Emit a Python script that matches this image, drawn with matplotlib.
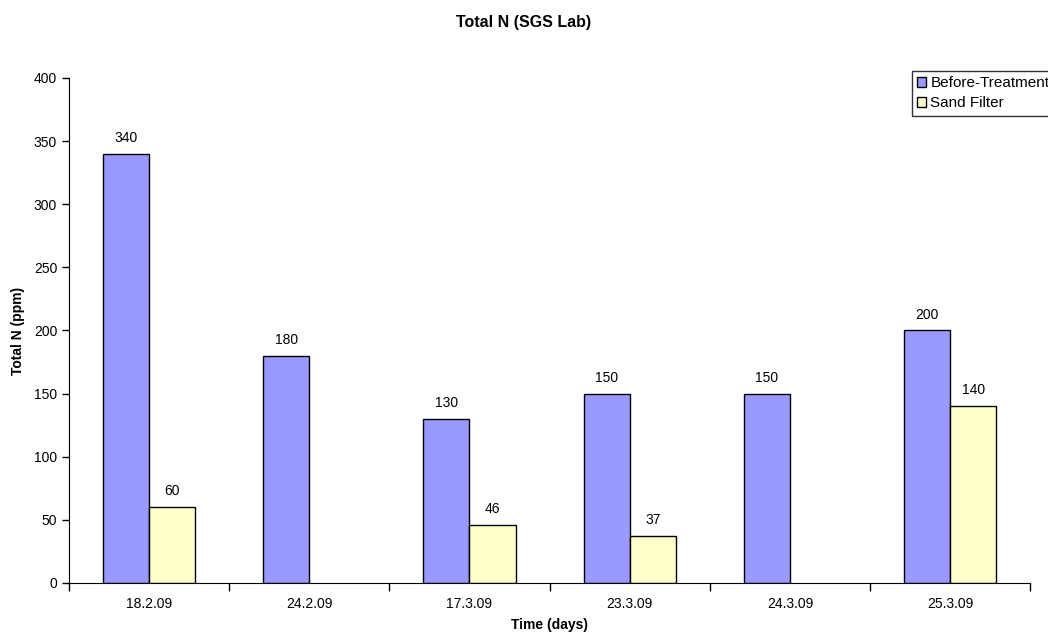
import numpy as np
from matplotlib import pyplot as plt

dates = ['18.2.09', '24.2.09', '17.3.09', '23.3.09', '24.3.09', '25.3.09']
before = [340, 180, 130, 150, 150, 200]
sand = [60, None, 46, 37, None, 140]

plt.rcParams['font.family'] = ['Liberation Sans', 'DejaVu Sans']

fig = plt.figure(figsize=(10.48, 6.37), dpi=100)
ax = fig.add_axes([0.0658, 0.0848, 0.9172, 0.7928])

x = np.arange(len(dates))
w = 0.2875
sand_vals = np.array([np.nan if v is None else v for v in sand], dtype=float)

ax.bar(x - w / 2, before, w, color='#9999ff', edgecolor='black', linewidth=1, label='Before-Treatment')
ax.bar(x + w / 2, sand_vals, w, color='#ffffcc', edgecolor='black', linewidth=1, label='Sand Filter')

# value labels, skip the missing sand filter readings
for xi, v in zip(x, before):
    ax.text(xi - w / 2, v + 7, str(v), ha='center', va='bottom', fontsize=10)
for xi, v in zip(x, sand):
    if v is not None:
        ax.text(xi + w / 2, v + 7, str(v), ha='center', va='bottom', fontsize=10)

ax.set_xlim(-0.5, len(dates) - 0.5)
ax.set_ylim(0, 400)
ax.set_yticks(range(0, 401, 50))
ax.set_xticks(x)
ax.set_xticklabels(dates, fontsize=10)
ax.set_xticks(np.arange(-0.5, len(dates), 1), minor=True)
ax.tick_params(axis='x', which='major', length=0, pad=10)
ax.tick_params(axis='x', which='minor', length=6, direction='out', width=1)
ax.tick_params(axis='y', length=5, direction='out', width=1, labelsize=10)

ax.spines['top'].set_visible(False)
ax.spines['right'].set_visible(False)

ax.set_ylabel('Total N (ppm)', fontsize=10, fontweight='bold', labelpad=6)
ax.set_xlabel('Time (days)', fontsize=10, fontweight='bold', labelpad=5)
fig.suptitle('Total N (SGS Lab)', fontsize=11.5, fontweight='bold', y=0.977)

leg = ax.legend(loc='upper left', bbox_to_anchor=(0.877, 1.014), fontsize=11, frameon=True,
                fancybox=False, edgecolor='black', handlelength=0.6, handleheight=0.6,
                handletextpad=0.25, borderpad=0.35, labelspacing=0.4, borderaxespad=0)
leg.get_frame().set_linewidth(1)

plt.savefig('out.png', dpi=100)
